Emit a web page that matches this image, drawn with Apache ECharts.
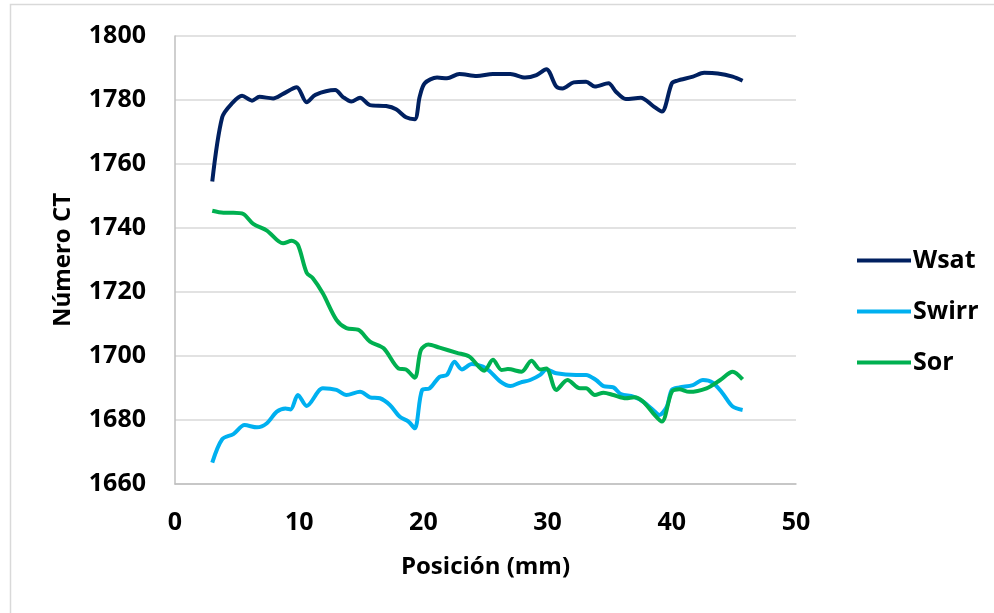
<!DOCTYPE html>
<html>
<head>
<meta charset="utf-8">
<script src="https://cdn.jsdelivr.net/npm/echarts@6/dist/echarts.min.js"></script>
<style>
  html, body { margin: 0; padding: 0; background: #fff; }
  #chart { width: 994px; height: 613px; }
</style>
</head>
<body>
<div id="chart"></div>
<script>
// valores (posición en mm, número CT)
const seriesNames = ['Wsat', 'Swirr', 'Sor']
const xTicks = [0, 10, 20, 30, 40, 50]
const yTicks = [1660, 1680, 1700, 1720, 1740, 1760, 1780, 1800]

const wsatX = [3.0, 3.8, 4.6, 5.4, 6.2, 6.8, 7.9, 8.7, 9.8, 10.6, 11.3, 12.9, 13.5, 14.2, 14.9, 15.7, 17.0, 17.8, 18.6, 19.3, 19.7, 20.1, 21.1, 21.9, 22.9, 24.3, 25.6, 27.0, 28.2, 29.1, 29.9, 30.7, 31.2, 32.1, 33.1, 33.8, 34.9, 35.5, 36.3, 37.5, 38.5, 39.2, 40.0, 40.4, 41.7, 42.6, 43.7, 44.9, 45.7]
const wsatY = [1754.5, 1774.6, 1779.0, 1781.3, 1779.8, 1781.0, 1780.5, 1781.9, 1784.0, 1779.3, 1781.6, 1783.1, 1781.0, 1779.5, 1780.7, 1778.4, 1778.1, 1777.1, 1774.6, 1774.0, 1781.0, 1785.2, 1787.0, 1786.8, 1788.1, 1787.5, 1788.1, 1788.1, 1787.0, 1787.8, 1789.6, 1784.2, 1783.6, 1785.5, 1785.7, 1784.2, 1785.2, 1782.6, 1780.3, 1780.7, 1778.1, 1776.4, 1785.2, 1786.0, 1787.3, 1788.5, 1788.3, 1787.3, 1786.0]

const swirrX = [3.0, 3.8, 4.7, 5.6, 6.6, 7.4, 8.2, 8.9, 9.3, 9.9, 10.6, 11.9, 13.0, 13.8, 14.9, 15.7, 16.5, 17.3, 18.1, 18.8, 19.3, 19.9, 20.5, 21.3, 21.9, 22.5, 23.1, 23.9, 24.8, 25.3, 26.2, 27.0, 27.8, 28.6, 29.4, 29.9, 30.7, 32.3, 33.1, 33.9, 34.5, 35.3, 35.9, 36.9, 37.7, 38.5, 39.0, 39.6, 40.0, 40.6, 41.7, 42.5, 43.3, 44.1, 44.9, 45.7]
const swirrY = [1666.7, 1674.0, 1675.6, 1678.4, 1677.7, 1679.0, 1682.6, 1683.6, 1683.3, 1687.8, 1684.4, 1689.9, 1689.4, 1687.8, 1688.8, 1687.1, 1686.8, 1684.7, 1681.0, 1679.5, 1677.4, 1689.4, 1689.9, 1693.5, 1694.1, 1698.2, 1695.8, 1697.5, 1696.7, 1695.4, 1692.0, 1690.6, 1691.7, 1692.5, 1694.1, 1695.8, 1694.6, 1694.1, 1694.1, 1692.5, 1690.6, 1690.2, 1688.1, 1687.3, 1685.7, 1683.1, 1681.6, 1684.2, 1689.4, 1690.2, 1690.9, 1692.5, 1691.7, 1688.3, 1684.2, 1683.1]

const sorX = [3.0, 3.9, 4.7, 5.5, 6.3, 7.4, 8.7, 9.4, 9.9, 10.6, 11.1, 11.9, 13.0, 13.8, 14.8, 15.7, 16.8, 18.0, 18.6, 19.3, 19.8, 20.4, 21.3, 22.7, 23.7, 24.9, 25.6, 26.3, 26.8, 27.9, 28.7, 29.4, 29.9, 30.7, 31.6, 32.6, 33.1, 33.8, 34.5, 35.3, 36.3, 37.0, 37.7, 38.5, 39.2, 40.0, 40.6, 41.4, 42.8, 43.9, 44.9, 45.7]
const sorY = [1745.4, 1744.8, 1744.8, 1744.4, 1741.3, 1739.2, 1735.2, 1736.0, 1734.7, 1726.0, 1724.3, 1719.6, 1711.3, 1708.7, 1708.1, 1704.5, 1702.4, 1696.1, 1695.8, 1693.2, 1701.9, 1703.6, 1702.6, 1701.0, 1699.8, 1695.4, 1698.8, 1695.6, 1695.9, 1695.1, 1698.5, 1695.8, 1696.1, 1689.4, 1692.5, 1689.9, 1689.9, 1687.8, 1688.5, 1687.8, 1686.8, 1687.1, 1685.7, 1682.1, 1679.5, 1688.8, 1689.6, 1688.8, 1689.9, 1692.5, 1695.1, 1692.7]

const colors = ['#002060', '#00B0F0', '#00B050']

function pairs(xs, ys) {
  return xs.map((x, i) => [x, ys[i]])
}

const myChart = echarts.init(document.getElementById('chart'))
const fontFamily = '"Open Sans", "Liberation Sans", sans-serif'

const seriesData = [pairs(wsatX, wsatY), pairs(swirrX, swirrY), pairs(sorX, sorY)]
const series = seriesNames.map((name, i) => ({
  name: name,
  type: 'line',
  data: seriesData[i],
  smooth: 0.3,
  showSymbol: false,
  symbol: 'none',
  lineStyle: { width: 4, color: colors[i] },
  itemStyle: { color: colors[i] }
}))

const option = {
  animation: false,
  color: colors,
  graphic: [{
    type: 'rect',
    shape: { x: 10.5, y: 4.5, width: 1000, height: 700 },
    style: { fill: 'none', stroke: '#d9d9d9', lineWidth: 1.5 },
    silent: true
  }],
  grid: {
    left: 175,
    right: 198,
    top: 36,
    bottom: 129
  },
  legend: {
    orient: 'vertical',
    left: 852,
    top: 243,
    itemGap: 26,
    itemWidth: 54,
    itemHeight: 4,
    icon: 'rect',
    textStyle: {
      color: '#000',
      fontSize: 25,
      fontWeight: 'bold',
      fontFamily: fontFamily,
      padding: [0, 0, 0, -3]
    },
    data: seriesNames
  },
  xAxis: {
    type: 'value',
    min: xTicks[0],
    max: xTicks[xTicks.length - 1],
    interval: 10,
    name: 'Posición (mm)',
    nameLocation: 'middle',
    nameGap: 71,
    nameTextStyle: { color: '#000', fontSize: 24, fontWeight: 'bold', fontFamily: fontFamily },
    axisLine: { show: true, lineStyle: { color: '#bfbfbf', width: 1.5 } },
    axisTick: { show: false },
    splitLine: { show: false },
    axisLabel: { color: '#000', fontSize: 25, fontWeight: 'bold', fontFamily: fontFamily, margin: 26 }
  },
  yAxis: {
    type: 'value',
    min: yTicks[0],
    max: yTicks[yTicks.length - 1],
    interval: 20,
    name: 'Número CT',
    nameLocation: 'middle',
    nameRotate: 90,
    nameGap: 100,
    nameTextStyle: { color: '#000', fontSize: 24, fontWeight: 'bold', fontFamily: fontFamily },
    axisLine: { show: true, lineStyle: { color: '#bfbfbf', width: 1.5 } },
    axisTick: { show: false },
    splitLine: { show: true, lineStyle: { color: '#d9d9d9', width: 1.5 } },
    axisLabel: {
      color: '#000', fontSize: 25, fontWeight: 'bold', fontFamily: fontFamily, margin: 29,
      formatter: val => String(val)
    }
  },
  series: series
}

myChart.setOption(option)
</script>
</body>
</html>
